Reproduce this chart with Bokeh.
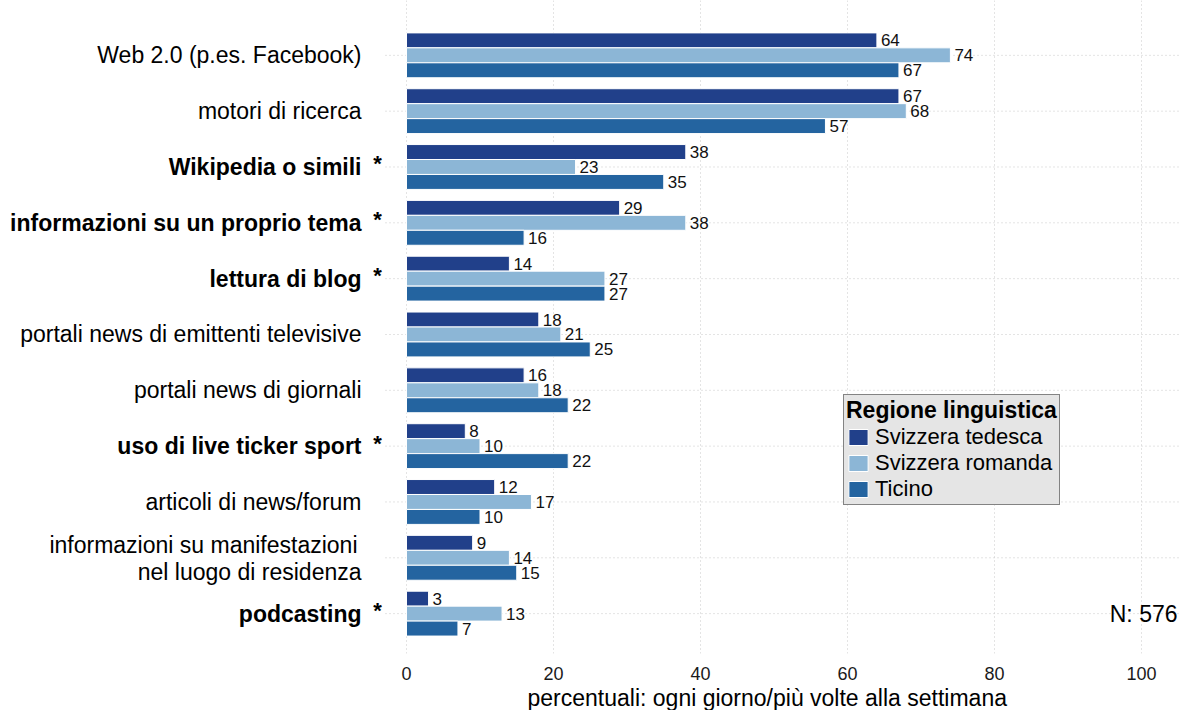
from bokeh.plotting import figure
from bokeh.models import (Range1d, FixedTicker, Legend, LegendItem, ColumnDataSource, Title)
from bokeh.core.properties import value
from bokeh.embed import file_html
from bokeh.resources import INLINE

categories = ["Web 2.0 (p.es. Facebook)", "motori di ricerca", "Wikipedia o simili",
              "informazioni su un proprio tema", "lettura di blog",
              "portali news di emittenti televisive", "portali news di giornali",
              "uso di live ticker sport", "articoli di news/forum",
              "informazioni su manifestazioni \nnel luogo di residenza", "podcasting"]
significant = [False, False, True, True, True, False, False, True, False, False, True]
tedesca = [64, 67, 38, 29, 14, 18, 16, 8, 12, 9, 3]
romanda = [74, 68, 23, 38, 27, 21, 18, 10, 17, 14, 13]
ticino = [67, 57, 35, 16, 27, 25, 22, 22, 10, 15, 7]
series_names = ["Svizzera tedesca", "Svizzera romanda", "Ticino"]
colors = ["#21408A", "#8CB6D6", "#2464A0"]
x_ticks = [0, 20, 40, 60, 80, 100]
x_title = "percentuali: ogni giorno/più volte alla settimana"
n_text = "N: 576"

FONT = "Liberation Sans"
W, H = 1180, 710
BOTTOM = 55
PX = 7.35          # pixels per percent unit
X0 = 406           # pixel of value 0
ROW = 56.0         # pixels per category
TOP0 = 55.0        # pixel of first category centre
frame_h = H - BOTTOM

p = figure(width=W, height=H, output_backend="svg", toolbar_location=None,
           x_range=Range1d(-X0 / PX, (W - X0) / PX),
           y_range=Range1d(-TOP0 / ROW + frame_h / ROW, -TOP0 / ROW),
           y_axis_location=None, min_border_left=0, min_border_right=0,
           min_border_top=0, min_border_bottom=BOTTOM)
p.outline_line_color = None
p.background_fill_color = "white"
p.ygrid.grid_line_color = None

GRID_COL = "#c8c8c8"
p.xgrid.ticker = FixedTicker(ticks=x_ticks)
p.xgrid.grid_line_color = GRID_COL
p.xgrid.grid_line_dash = "1 3"

n = len(categories)
p.segment(x0=[-21 / PX] * n, x1=[(W - X0) / PX] * n, y0=list(range(n)), y1=list(range(n)),
          line_color=GRID_COL, line_dash="1 3", line_width=1)

p.xaxis.ticker = FixedTicker(ticks=x_ticks)
p.xaxis.axis_line_color = None
p.xaxis.major_tick_line_color = None
p.xaxis.minor_tick_line_color = None
p.xaxis.major_label_text_font = FONT
p.xaxis.major_label_text_font_size = "18px"
p.xaxis.major_label_text_color = "#1a1a1a"
p.xaxis.major_label_standoff = 7

p.add_layout(Title(text=x_title, align="left", offset=527, standoff=0,
                   text_font=FONT, text_font_size="23px", text_font_style="normal",
                   text_color="black"), "below")

bh = 15 / ROW
offsets = [-bh, 0.0, bh]
renderers = []
for vals, off, col in zip([tedesca, romanda, ticino], offsets, colors):
    ys = [i + off for i in range(n)]
    src = ColumnDataSource(dict(y=ys, right=vals, txt=[str(v) for v in vals]))
    r = p.hbar(y="y", left=0, right="right", height=bh, source=src,
               fill_color=col, line_color="white", line_width=1)
    renderers.append(r)
    p.text(x="right", y="y", text="txt", source=src, x_offset=4,
           text_baseline="middle", text_align="left", text_font=value(FONT),
           text_font_size="17px", text_color="#111111")

# category labels (drawn as text inside the wide frame)
norm_x, norm_y, norm_t = [], [], []
bold_x, bold_y, bold_t = [], [], []
star_y = []
lab_x = -45 / PX
for i, (cat, sig) in enumerate(zip(categories, significant)):
    lines = cat.split("\n")
    if len(lines) == 1:
        if sig:
            bold_x.append(lab_x); bold_y.append(i); bold_t.append(cat)
            star_y.append(i)
        else:
            norm_x.append(lab_x); norm_y.append(i); norm_t.append(cat)
    else:
        norm_x += [-49 / PX, lab_x]
        norm_y += [i - 13 / ROW, i + 14 / ROW]
        norm_t += [lines[0].strip(), lines[1]]

p.text(x=norm_x, y=norm_y, text=norm_t, text_align="right", text_baseline="middle",
       text_font=value(FONT), text_font_size="23px", text_color="black")
p.text(x=bold_x, y=bold_y, text=bold_t, text_align="right", text_baseline="middle",
       text_font=value(FONT), text_font_size="23px", text_font_style="bold",
       text_color="black")
p.text(x=[-29 / PX] * len(star_y), y=[s - 3 / ROW for s in star_y], text=["*"] * len(star_y),
       text_align="center", text_baseline="middle", text_font=value(FONT),
       text_font_size="22px", text_font_style="bold", text_color="black")

p.text(x=[(W - X0 - 3) / PX], y=[n - 1], text=[n_text], text_align="right",
       text_baseline="middle", text_font=value(FONT), text_font_size="23px",
       text_color="black")

legend = Legend(items=[LegendItem(label=s, renderers=[r]) for s, r in zip(series_names, renderers)],
                location=(843, frame_h - 507), title="Regione linguistica",
                title_text_font=FONT, title_text_font_size="23px", title_text_font_style="bold",
                title_text_color="black", title_standoff=0, title_text_line_height=1.0,
                label_text_font=FONT, label_text_font_size="22px", label_text_color="black",
                label_text_line_height=1.0,
                glyph_width=24, glyph_height=20, label_height=20, label_standoff=5,
                spacing=0, padding=2, margin=0,
                border_line_color="#222222", border_line_width=1,
                background_fill_color="#e5e5e5", background_fill_alpha=1.0)
p.add_layout(legend)

open("out.html", "w").write(file_html(p, INLINE))
